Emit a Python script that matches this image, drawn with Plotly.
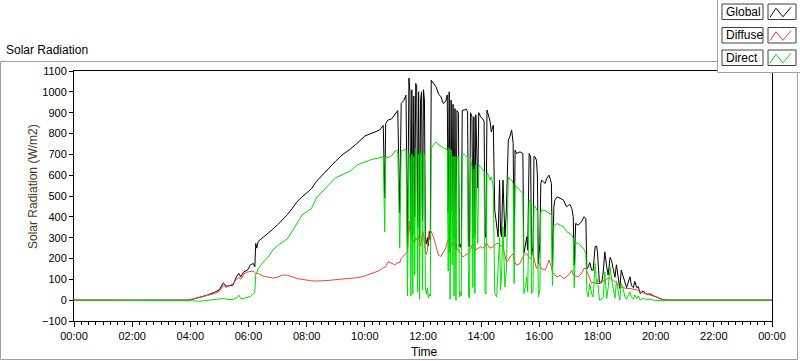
import plotly.graph_objects as go
import pandas as pd

# ---------------- data ----------------
time_labels = [
    "00:00", "03:55", "04:05", "04:20", "04:35", "04:50", "05:00", "05:08", "05:14", "05:22", "05:28",
    "05:35", "05:40", "05:44", "05:50", "05:58", "06:04", "06:10", "06:13", "06:15", "06:17",
    "06:20", "06:30", "06:40", "06:50", "07:00", "07:10", "07:20", "07:30", "07:40", "07:50", "08:00",
    "08:10", "08:20", "08:30", "08:40", "08:50", "09:00", "09:15", "09:30", "09:45", "10:00", "10:15",
    "10:30", "10:38",
    "10:41", "10:43", "10:48", "10:55", "11:02", "11:08", "11:12", "11:15", "11:20", "11:25", "11:28",
    "11:31", "11:33", "11:35", "11:37", "11:39", "11:41", "11:43", "11:45", "11:47", "11:49", "11:51",
    "11:53", "11:55", "11:57", "11:59", "12:01", "12:03", "12:05", "12:07", "12:09", "12:11", "12:13",
    "12:15", "12:17", "12:22", "12:27", "12:32", "12:37", "12:42", "12:47",
    "12:50", "12:52", "12:54", "12:56", "12:58", "13:00", "13:02", "13:04", "13:06", "13:08", "13:10",
    "13:13", "13:15", "13:17", "13:19", "13:21", "13:25", "13:29", "13:32", "13:34", "13:36", "13:38",
    "13:41", "13:43", "13:45", "13:47", "13:49", "13:53", "13:55", "13:59", "14:03", "14:06", "14:08",
    "14:10",
    "14:12", "14:15", "14:18", "14:21", "14:25", "14:28", "14:32", "14:35", "14:38", "14:40", "14:42",
    "14:45", "14:49", "14:52", "14:56", "14:59", "15:03", "15:06", "15:08", "15:10", "15:13", "15:20",
    "15:26", "15:28", "15:31", "15:34", "15:36", "15:39", "15:42", "15:44", "15:47", "15:49", "15:51",
    "15:54", "15:56", "15:58", "16:01", "16:03", "16:05", "16:12", "16:15", "16:20", "16:25", "16:27",
    "16:30", "16:32", "16:37", "16:43",
    "16:50", "16:56", "17:03", "17:07", "17:10", "17:12", "17:15", "17:20", "17:27", "17:32", "17:36",
    "17:38", "17:41", "17:44", "17:48", "17:51", "17:55", "17:58", "18:00", "18:04", "18:09", "18:12",
    "18:15", "18:19", "18:22", "18:26", "18:29", "18:33", "18:36", "18:39", "18:43", "18:46", "18:49",
    "18:53", "18:56", "19:00", "19:07", "19:10", "19:14", "19:17", "19:21", "19:24", "19:28", "19:34",
    "19:41", "19:48", "19:55", "20:02", "20:09", "20:15", "20:25", "24:00",
]

global_wm2 = [
    0, 0, 5, 14, 24, 38, 50, 83, 67, 70, 72, 112, 128, 112, 135, 145, 170, 176, 160, 272, 250,
    282, 300, 322, 340, 362, 385, 410, 440, 472, 495, 515, 535, 570, 595, 622, 645, 668, 700, 725,
    755, 788, 802, 816, 838,
    490, 848, 865, 870, 895, 910, 420, 944, 958, 984, 240, 1066, 1000, 300, 1010, 310, 980, 400,
    1040, 1030, 350, 1000, 280, 960, 1000, 380, 1010, 960, 290, 270, 300, 260, 330, 290, 1056, 1040,
    1024, 990, 976, 944, 955,
    985, 420, 1000, 230, 960, 430, 940, 300, 920, 250, 910, 900, 256, 270, 250, 912, 912, 918, 905,
    260, 256, 900, 880, 300, 880, 320, 890, 540, 900, 880, 870, 860, 320, 300,
    912, 880, 864, 808, 840, 432, 352, 304, 576, 330, 304, 576, 304, 432, 768, 784, 816, 752, 240,
    720, 704, 712, 704, 224, 260, 304, 240, 704, 688, 218, 256, 690, 688, 672, 600, 176, 272, 560,
    576, 560, 584, 600, 560, 160, 448, 480, 496, 488,
    480, 448, 460, 440, 400, 168, 368, 360, 376, 400, 392, 150, 160, 180, 144, 144, 256, 260, 230,
    80, 85, 140, 232, 160, 120, 205, 190, 144, 110, 170, 90, 56, 144, 110, 90, 60, 112, 70, 60, 90,
    60, 65, 32, 45, 28, 30, 22, 14, 6, 2, 0, 0,
]

diffuse_wm2 = [
    0, 0, 5, 14, 22, 32, 42, 70, 62, 70, 78, 100, 110, 100, 125, 135, 138, 140, 132, 128, 130,
    128, 116, 110, 106, 110, 120, 120, 112, 104, 100, 96, 93, 92, 92, 94, 96, 98, 102, 104, 108, 116,
    128, 142, 155,
    160, 160, 185, 178, 170, 180, 180, 200, 215, 225, 230, 380, 330, 290, 300, 290, 280, 280, 300,
    290, 310, 300, 270, 260, 290, 330, 320, 270, 230, 220, 240, 280, 320, 310, 330, 300, 250, 215,
    210, 230, 250,
    280, 290, 280, 240, 260, 270, 280, 270, 260, 240, 250, 240, 235, 230, 220, 210, 210, 220, 220,
    225, 230, 240, 265, 272, 265, 250, 240, 250, 250, 256, 250, 255, 260, 272,
    272, 260, 250, 252, 256, 265, 272, 272, 272, 260, 260, 256, 208, 184, 190, 208, 215, 224, 200,
    180, 168, 176, 208, 215, 220, 224, 215, 205, 200, 210, 224, 200, 180, 152, 160, 165, 176, 160,
    150, 144, 160, 192, 160, 135, 128, 120, 112, 120,
    104, 112, 128, 144, 120, 118, 118, 112, 128, 152, 152, 140, 128, 112, 80, 88, 80, 80, 80, 85, 88,
    90, 95, 100, 107, 104, 100, 96, 90, 85, 70, 64, 62, 60, 58, 56, 56, 55, 54, 52, 50, 45, 40, 35,
    30, 26, 22, 15, 6, 2, 0, 0,
]

direct_wm2 = [
    0, 0, -3, -5, 0, 4, 6, 8, 5, 2, 4, 10, 24, 8, 8, 12, 18, 30, 40, 125, 130,
    152, 182, 205, 240, 262, 280, 294, 330, 372, 408, 425, 440, 490, 515, 545, 565, 588, 605, 620,
    650, 662, 676, 683, 690,
    328, 688, 685, 692, 715, 720, 250, 715, 720, 725, 20, 705, 680, 20, 700, 30, 690, 120, 730, 730,
    40, 700, 5, 700, 710, 50, 700, 700, 60, 30, 60, 10, 30, 20, 730, 745, 760, 745, 740, 730, 728,
    720, 140, 730, 5, 720, 170, 690, 20, 690, 0, 690, 690, 15, 40, 20, 700, 700, 690, 690, 20, 10,
    680, 640, 60, 630, 32, 650, 272, 650, 640, 630, 620, 40, 30,
    610, 600, 576, 592, 544, 32, 16, 144, 300, 48, 112, 352, 64, 144, 592, 580, 576, 560, 80, 550,
    544, 528, 512, 32, 60, 112, 40, 480, 470, 32, 48, 455, 448, 440, 430, 16, 48, 420, 432, 430, 425,
    416, 410, 70, 360, 360, 368, 360,
    352, 330, 320, 312, 296, 60, 275, 272, 258, 245, 224, 40, 16, 80, 30, 16, 176, 80, 100, 0, 5, 16,
    136, 8, 60, 160, 100, 40, 10, 90, 30, 0, 80, 55, 20, 5, 40, 15, 5, 25, 8, 20, 0, 10, 2, 5, 0, -2,
    -3, -3, 0, 0,
]

series_names = ["Global", "Diffuse", "Direct"]
series_colors = ["#000000", "#ff3c3c", "#00e000"]
y_ticks = list(range(-100, 1101, 100))

# ---------------- build ----------------
base = pd.Timestamp("2024-01-01")


def to_ts(s):
    h, m = s.split(":")
    return base + pd.Timedelta(hours=int(h), minutes=int(m))


x_vals = [to_ts(t) for t in time_labels]

W, H = 800, 361
L, R, T, B = 74, 772, 71, 321


def px(v):
    return (v - L) / (R - L)


def py(v):
    return (B - v) / (B - T)


FONT = "Liberation Sans, Arial, sans-serif"

fig = go.Figure()
for name, vals, col in zip(series_names, [global_wm2, diffuse_wm2, direct_wm2], series_colors):
    fig.add_trace(go.Scatter(x=x_vals, y=vals, mode="lines", name=name,
                             line=dict(color=col, width=1), showlegend=False,
                             hoverinfo="skip"))

shapes = []
# outer gray frame
shapes.append(dict(type="path", xref="paper", yref="paper",
                   path=f"M {px(717)},{py(61.5)} L {px(0.5)},{py(61.5)} L {px(0.5)},{py(359.5)} "
                        f"L {px(797.5)},{py(359.5)} L {px(797.5)},{py(72)}",
                   line=dict(color="#a0a0a0", width=1)))
# legend panel
shapes.append(dict(type="rect", xref="paper", yref="paper",
                   x0=px(717.5), x1=px(801), y0=py(72.5), y1=py(-1),
                   line=dict(color="#a0a0a0", width=1), fillcolor="#ffffff"))
legend_rows = [(4, 19.5), (27.5, 43), (50, 65.5)]
for (y0, y1), col in zip(legend_rows, series_colors):
    shapes.append(dict(type="rect", xref="paper", yref="paper",
                       x0=px(722), x1=px(763), y0=py(y1), y1=py(y0),
                       line=dict(color="#404040", width=1), fillcolor="#ffffff"))
    shapes.append(dict(type="rect", xref="paper", yref="paper",
                       x0=px(768), x1=px(796), y0=py(y1), y1=py(y0),
                       line=dict(color="#404040", width=1), fillcolor="#ffffff"))
    ym = (y0 + y1) / 2
    shapes.append(dict(type="path", xref="paper", yref="paper",
                       path=f"M {px(770)},{py(ym + 5.5)} L {px(776)},{py(ym - 3.5)} "
                            f"L {px(783)},{py(ym + 5)} L {px(791)},{py(ym - 4.5)}",
                       line=dict(color=col, width=1)))

annotations = []
annotations.append(dict(text="Solar Radiation", xref="paper", yref="paper",
                        x=px(4), y=py(50.5), xanchor="left", yanchor="middle",
                        showarrow=False, font=dict(family=FONT, size=12, color="#000000")))
for (y0, y1), name in zip(legend_rows, series_names):
    annotations.append(dict(text=name, xref="paper", yref="paper",
                            x=px(724), y=py((y0 + y1) / 2), xanchor="left", yanchor="middle",
                            showarrow=False, font=dict(family=FONT, size=12, color="#000000")))
annotations.append(dict(text="Solar Radiation (W/m2)", xref="paper", yref="paper",
                        x=px(33), y=py(187), textangle=-90, xanchor="center", yanchor="middle",
                        showarrow=False, font=dict(family=FONT, size=12, color="#4d3319")))
annotations.append(dict(text="Time", xref="paper", yref="paper",
                        x=px(424), y=py(352), xanchor="center", yanchor="middle",
                        showarrow=False, font=dict(family=FONT, size=12, color="#000000")))

fig.update_layout(
    width=W, height=H,
    margin=dict(l=L, r=W - R, t=T, b=H - B, pad=0),
    paper_bgcolor="#ffffff", plot_bgcolor="#ffffff",
    font=dict(family=FONT, size=11, color="#000000"),
    showlegend=False,
    hovermode=False,
    shapes=shapes,
    annotations=annotations,
    xaxis=dict(type="date", range=[base, base + pd.Timedelta(days=1)],
               tick0=base, dtick=7200000, tickformat="%H:%M",
               ticks="outside", ticklen=5, tickcolor="#000000", tickwidth=1,
               showline=True, linecolor="#000000", linewidth=1, mirror=True,
               showgrid=False, zeroline=False,
               tickfont=dict(family=FONT, size=11, color="#000000"),
               minor=dict(ticks="outside", ticklen=3, dtick=900000,
                          tickcolor="#000000", showgrid=False)),
    yaxis=dict(range=[-100, 1100], tickvals=y_ticks,
               ticks="outside", ticklen=4, tickcolor="#000000", tickwidth=1,
               showline=True, linecolor="#000000", linewidth=1, mirror=True,
               showgrid=False, zeroline=False,
               tickfont=dict(family=FONT, size=11, color="#000000")),
)

fig.write_html("out.html", config={"displayModeBar": False, "staticPlot": True})

# remove the default page margin so the 800x361 figure fills the window exactly
with open("out.html", "r", encoding="utf-8") as f:
    page = f.read()
page = page.replace("<head>", "<head><style>html,body{margin:0;padding:0;overflow:hidden;}</style>", 1)
with open("out.html", "w", encoding="utf-8") as f:
    f.write(page)
